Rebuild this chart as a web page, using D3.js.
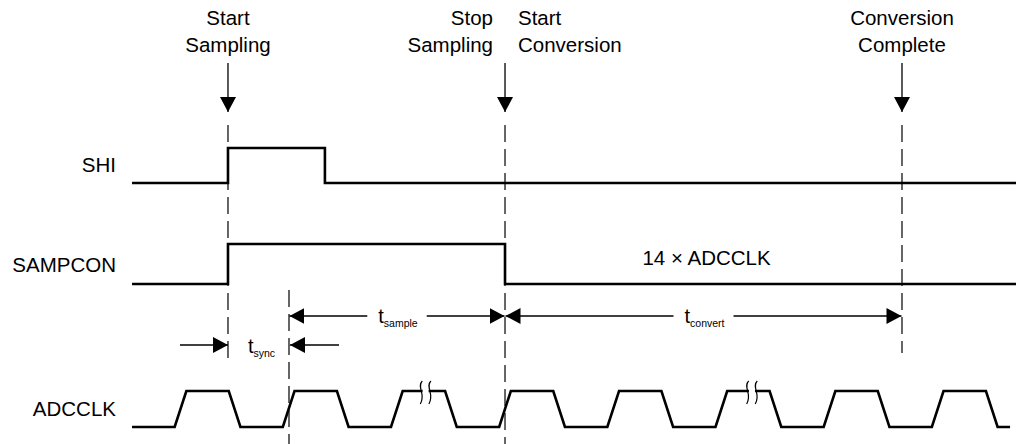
<!DOCTYPE html>
<html>
<head>
<meta charset="utf-8">
<script src="https://cdn.jsdelivr.net/npm/d3@7/dist/d3.min.js"></script>
<style>
  html, body { margin: 0; padding: 0; background: #fff; }
  svg { display: block; }
  text { font-family: "Liberation Sans", Arial, Helvetica, sans-serif; fill: #000; }
</style>
</head>
<body>
<svg id="chart" width="1016" height="444"></svg>
<script>
// ---------------- data (time in ADCCLK periods) ----------------
const signalNames = ["SHI", "SAMPCON", "ADCCLK"];
const timeSpan = [-0.394, 7.778];          // drawn time range
const shiSteps = [[-0.394, 0], [0.493, 1], [1.389, 0], [7.778, 0]];
const sampconSteps = [[-0.394, 0], [0.493, 1], [3.054, 0], [7.778, 0]];
const clockCycles = [0, 1, 2, 3, 4, 5, 6, 7];  // rising-edge starts
const clockEnd = 7.723;
const clockEdge = 0.108;                    // edge duration (periods)
const clockHigh = 0.5;                      // high phase incl. rise
const clockBreaks = [2.32, 5.337];
const eventTimes = [0.493, 3.054, 6.724];
const eventLabels = [
  { lines: ["Start", "Sampling"], t: 0.493, anchor: "middle" },
  { lines: ["Stop", "Sampling"], t: 3.054, anchor: "end" },
  { lines: ["Start", "Conversion"], t: 3.054, anchor: "start" },
  { lines: ["Conversion", "Complete"], t: 6.724, anchor: "middle" }
];
const syncTime = 1.057;
const intervals = [
  { name: "sample", t0: 1.057, t1: 3.054 },
  { name: "convert", t0: 3.054, t1: 6.724 }
];
const syncInterval = { name: "sync", t0: 0.493, t1: 1.057 };
const noteText = "14 × ADCCLK";
const noteTime = 4.917;

// ---------------- layout ----------------
const svg = d3.select("#chart");
const x = d3.scaleLinear().domain([0, 1]).range([174.66, 282.83]);
const rows = {
  SHI:     d3.scaleLinear().domain([0, 1]).range([183, 148]),
  SAMPCON: d3.scaleLinear().domain([0, 1]).range([284, 244]),
  ADCCLK:  d3.scaleLinear().domain([0, 1]).range([427, 391])
};
const labelBase = { SHI: 172, SAMPCON: 272, ADCCLK: 416 };
const FS = 20.5;

// defs: arrowheads
const defs = svg.append("defs");
defs.append("marker").attr("id", "ah")
  .attr("viewBox", "0 0 15 16").attr("refX", 15).attr("refY", 8)
  .attr("markerWidth", 15).attr("markerHeight", 16)
  .attr("markerUnits", "userSpaceOnUse").attr("orient", "auto")
  .append("path").attr("d", "M0,0 L15,8 L0,16 Z").attr("fill", "#000");

// ---------------- guides (dashed) ----------------
const guides = [
  { t: eventTimes[0], y0: 125, y1: 358 },
  { t: syncTime, y0: 290, y1: 444 },
  { t: eventTimes[1], y0: 125, y1: 444 },
  { t: eventTimes[2], y0: 125, y1: 353 }
];
svg.append("g").selectAll("line").data(guides).join("line")
  .attr("x1", d => x(d.t)).attr("x2", d => x(d.t))
  .attr("y1", d => d.y0).attr("y2", d => d.y1)
  .attr("stroke", "#000").attr("stroke-width", 1.2)
  .attr("stroke-dasharray", "17 7");

// ---------------- event arrows & labels ----------------
svg.append("g").selectAll("line").data(eventTimes).join("line")
  .attr("x1", d => x(d)).attr("x2", d => x(d))
  .attr("y1", 63).attr("y2", 112)
  .attr("stroke", "#000").attr("stroke-width", 1.3)
  .attr("marker-end", "url(#ah)");

const lbl = svg.append("g").selectAll("text").data(eventLabels).join("text")
  .attr("x", d => x(d.t) + (d.anchor === "end" ? -12 : d.anchor === "start" ? 13 : 0))
  .attr("y", 25)
  .attr("text-anchor", d => d.anchor)
  .attr("font-size", FS);
lbl.selectAll("tspan").data(d => d.lines.map(s => ({ s, d }))).join("tspan")
  .attr("x", function (e) { return d3.select(this.parentNode).attr("x"); })
  .attr("dy", (e, i) => i === 0 ? 0 : 27)
  .text(e => e.s);

// ---------------- signal labels ----------------
svg.append("g").selectAll("text").data(signalNames).join("text")
  .attr("x", 116).attr("y", d => labelBase[d])
  .attr("text-anchor", "end").attr("font-size", FS)
  .text(d => d);

// ---------------- waveforms ----------------
const lineGen = (row) => d3.line().x(d => x(d[0])).y(d => rows[row](d[1])).curve(d3.curveStepAfter);
const wave = svg.append("g").attr("fill", "none").attr("stroke", "#000")
  .attr("stroke-width", 2.6).attr("stroke-linejoin", "miter").attr("stroke-linecap", "butt");
wave.append("path").attr("d", lineGen("SHI")(shiSteps));
wave.append("path").attr("d", lineGen("SAMPCON")(sampconSteps));

const clkPts = [[timeSpan[0], 0]];
clockCycles.forEach(k => {
  clkPts.push([k, 0], [k + clockEdge, 1], [k + clockHigh, 1], [k + clockHigh + clockEdge, 0]);
});
clkPts.push([clockEnd, 0]);
wave.append("path")
  .attr("d", d3.line().x(d => x(d[0])).y(d => rows.ADCCLK(d[1]))(clkPts));

// break symbols
const brk = svg.append("g").attr("fill", "none").attr("stroke", "#000").attr("stroke-width", 1.2);
clockBreaks.forEach(t => {
  const cx = x(t);
  const yh = rows.ADCCLK(1);
  svg.insert("rect", "g:last-child");
  brk.append("rect").attr("x", cx - 3).attr("y", yh - 2).attr("width", 6).attr("height", 4)
    .attr("fill", "#fff").attr("stroke", "none");
  [-4.3, 4.3].forEach(o => {
    const xx = cx + o;
    brk.append("path")
      .attr("d", `M${xx + 1},${yh - 10} C${xx - 5},${yh - 4} ${xx + 5},${yh + 3} ${xx - 1},${yh + 13}`);
  });
});

// note
svg.append("text").attr("x", x(noteTime)).attr("y", 265)
  .attr("text-anchor", "middle").attr("font-size", FS).text(noteText);

// ---------------- interval dimension arrows ----------------
function tLabel(g, cx, y, sub) {
  const t = g.append("text").attr("x", cx).attr("y", y).attr("text-anchor", "middle").attr("font-size", 20);
  t.append("tspan").text("t");
  t.append("tspan").attr("font-size", 10.5).attr("dy", 4).text(sub);
  return t;
}
const dim = svg.append("g");
intervals.forEach(iv => {
  const y = 316;
  const x0 = x(iv.t0), x1 = x(iv.t1), cx = (x0 + x1) / 2;
  const tl = tLabel(dim, cx + 1, 323, iv.name);
  const w = tl.node().getComputedTextLength();
  const gap = w / 2 + 10;
  dim.append("line").attr("x1", cx - gap).attr("x2", x0 + 0.5).attr("y1", y).attr("y2", y)
    .attr("stroke", "#000").attr("stroke-width", 1.3).attr("marker-end", "url(#ah)");
  dim.append("line").attr("x1", cx + gap).attr("x2", x1 - 0.5).attr("y1", y).attr("y2", y)
    .attr("stroke", "#000").attr("stroke-width", 1.3).attr("marker-end", "url(#ah)");
});
{
  const y = 345;
  const x0 = x(syncInterval.t0), x1 = x(syncInterval.t1);
  tLabel(dim, (x0 + x1) / 2 + 3, 353, syncInterval.name);
  dim.append("line").attr("x1", x0 - 48).attr("x2", x0).attr("y1", y).attr("y2", y)
    .attr("stroke", "#000").attr("stroke-width", 1.3).attr("marker-end", "url(#ah)");
  dim.append("line").attr("x1", x1 + 50).attr("x2", x1 + 1).attr("y1", y).attr("y2", y)
    .attr("stroke", "#000").attr("stroke-width", 1.3).attr("marker-end", "url(#ah)");
}
</script>
</body>
</html>
